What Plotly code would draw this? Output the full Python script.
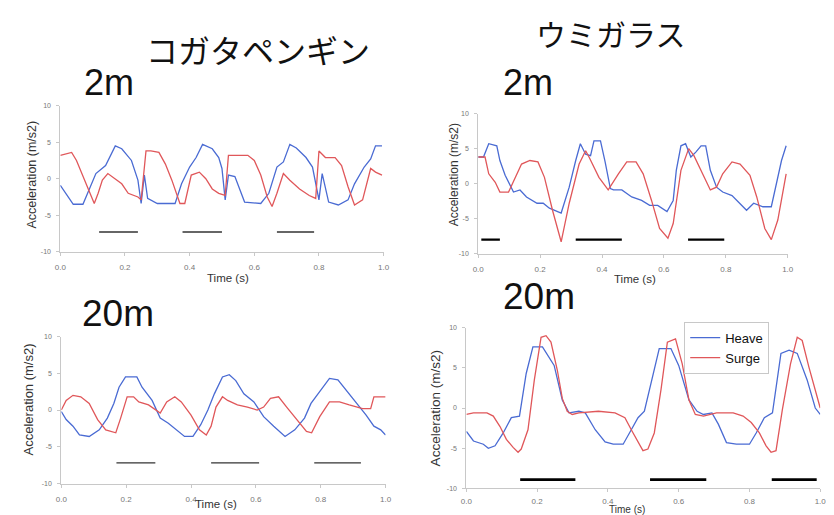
import plotly.graph_objects as go

# ---------------- data ----------------
# Panel 1: コガタペンギン 2m
p1_heave_t = [0.0, 0.04, 0.07, 0.11, 0.14, 0.17, 0.19, 0.22, 0.24, 0.25, 0.26, 0.27, 0.30, 0.355, 0.375, 0.40, 0.42, 0.44, 0.47, 0.49, 0.50, 0.51, 0.52, 0.54, 0.57, 0.62, 0.645, 0.67, 0.69, 0.71, 0.73, 0.76, 0.78, 0.80, 0.81, 0.83, 0.86, 0.89, 0.91, 0.94, 0.96, 0.975, 0.995]
p1_heave_v = [-0.9, -3.5, -3.5, 0.7, 1.8, 4.5, 4.1, 2.5, -0.2, -3.4, 0.5, -2.7, -3.4, -3.4, -0.7, 1.6, 2.9, 4.7, 4.1, 2.9, 1.4, -2.9, 0.5, 0.3, -3.2, -3.4, -2.0, 1.6, 2.3, 4.7, 4.2, 2.9, 1.6, -2.9, 0.7, -3.2, -3.6, -2.9, -0.7, 1.6, 2.7, 4.5, 4.5]
p1_surge_t = [0.0, 0.035, 0.05, 0.08, 0.105, 0.117, 0.13, 0.147, 0.17, 0.19, 0.21, 0.24, 0.25, 0.265, 0.28, 0.305, 0.325, 0.345, 0.37, 0.385, 0.405, 0.43, 0.45, 0.47, 0.49, 0.51, 0.52, 0.55, 0.58, 0.60, 0.62, 0.64, 0.655, 0.67, 0.69, 0.71, 0.74, 0.77, 0.79, 0.80, 0.82, 0.85, 0.87, 0.89, 0.91, 0.935, 0.96, 0.975, 0.995]
p1_surge_v = [3.2, 3.6, 2.5, -0.7, -3.4, -2.0, -0.2, 0.7, 0.0, -0.7, -2.0, -2.5, -2.9, 3.8, 3.8, 3.6, 2.0, -0.2, -3.4, -3.4, 0.5, 0.9, 0.0, -1.4, -2.0, -2.3, 3.2, 3.2, 3.2, 2.5, 0.5, -2.5, -3.8, -2.0, 0.7, -0.2, -1.4, -2.3, -2.7, 3.8, 2.9, 2.9, 1.8, -1.1, -3.6, -2.9, 1.4, 0.9, 0.5]
p1_bar_start = [0.12, 0.378, 0.67]
p1_bar_end = [0.24, 0.50, 0.785]
p1_bar_level = -7.3

# Panel 2: ウミガラス 2m
p2_heave_t = [0.0, 0.017, 0.034, 0.06, 0.07, 0.087, 0.114, 0.135, 0.156, 0.19, 0.21, 0.23, 0.268, 0.294, 0.315, 0.33, 0.347, 0.363, 0.374, 0.395, 0.41, 0.427, 0.437, 0.464, 0.496, 0.528, 0.554, 0.58, 0.61, 0.63, 0.64, 0.655, 0.67, 0.687, 0.703, 0.72, 0.735, 0.75, 0.77, 0.79, 0.82, 0.835, 0.867, 0.89, 0.92, 0.947, 0.963, 0.98, 0.995]
p2_heave_v = [3.8, 3.8, 5.7, 5.4, 3.3, 1.2, -1.2, -0.9, -1.9, -2.8, -2.8, -3.5, -4.2, -0.5, 3.3, 5.7, 4.2, 4.0, 6.1, 6.1, 3.1, -0.7, -0.9, -0.9, -1.9, -2.4, -3.1, -3.1, -4.0, -2.4, 1.9, 5.4, 5.7, 3.8, 4.5, 5.4, 5.4, 1.9, -0.5, -1.2, -1.7, -2.4, -3.8, -2.8, -3.3, -3.3, 0.0, 3.3, 5.4]
p2_surge_t = [0.0, 0.022, 0.034, 0.055, 0.07, 0.098, 0.14, 0.167, 0.193, 0.214, 0.24, 0.268, 0.294, 0.326, 0.347, 0.358, 0.39, 0.42, 0.453, 0.48, 0.51, 0.533, 0.56, 0.586, 0.613, 0.63, 0.655, 0.68, 0.697, 0.73, 0.75, 0.77, 0.79, 0.82, 0.846, 0.878, 0.90, 0.926, 0.947, 0.968, 0.995]
p2_surge_v = [3.8, 3.8, 1.4, 0.2, -1.2, -1.2, 2.8, 3.3, 3.1, 0.9, -3.8, -8.3, -2.8, 2.8, 4.7, 3.8, 0.9, -0.9, 1.4, 3.1, 3.1, 1.4, -2.4, -6.4, -7.8, -5.7, 1.9, 5.0, 4.0, 0.9, -0.9, -0.5, 1.4, 3.1, 2.8, 1.2, -1.9, -6.4, -8.0, -5.2, 1.4]
p2_bar_start = [0.01, 0.315, 0.678]
p2_bar_end = [0.07, 0.464, 0.795]
p2_bar_level = -8.0

# Panel 3: コガタペンギン 20m
p3_heave_t = [0.0, 0.015, 0.036, 0.056, 0.086, 0.117, 0.142, 0.162, 0.178, 0.198, 0.233, 0.249, 0.28, 0.305, 0.33, 0.36, 0.38, 0.406, 0.43, 0.452, 0.472, 0.497, 0.518, 0.538, 0.563, 0.594, 0.624, 0.655, 0.69, 0.72, 0.75, 0.77, 0.80, 0.827, 0.853, 0.878, 0.909, 0.94, 0.964, 0.985, 1.0]
p3_heave_v = [-0.2, -1.3, -2.2, -3.4, -3.6, -2.7, -1.1, 0.9, 3.1, 4.5, 4.5, 3.1, 1.3, -1.1, -1.8, -2.9, -3.6, -3.6, -2.0, 0.0, 2.2, 4.5, 4.8, 4.0, 2.2, 1.1, -0.9, -2.2, -3.6, -2.7, -1.1, 0.9, 2.7, 4.3, 4.1, 2.7, 1.1, -0.7, -2.2, -2.7, -3.4]
p3_surge_t = [0.0, 0.015, 0.036, 0.06, 0.086, 0.112, 0.137, 0.168, 0.183, 0.203, 0.223, 0.239, 0.269, 0.305, 0.325, 0.35, 0.37, 0.40, 0.426, 0.447, 0.462, 0.477, 0.497, 0.513, 0.543, 0.574, 0.604, 0.624, 0.645, 0.67, 0.695, 0.726, 0.756, 0.772, 0.797, 0.827, 0.858, 0.888, 0.929, 0.954, 0.964, 1.0]
p3_surge_v = [0.0, 1.3, 2.0, 1.8, 0.9, -1.3, -2.7, -3.1, -1.1, 1.8, 1.8, 1.1, 0.7, -0.4, 1.1, 1.8, 1.1, -0.7, -2.7, -3.4, -2.2, 0.4, 1.8, 1.3, 0.7, 0.4, 0.0, 0.4, 1.6, 1.8, 0.4, -1.3, -2.9, -3.1, -0.9, 1.1, 1.1, 0.7, 0.2, 0.2, 1.8, 1.8]
p3_bar_start = [0.17, 0.462, 0.78]
p3_bar_end = [0.29, 0.61, 0.924]
p3_bar_level = -7.2

# Panel 4: ウミガラス 20m
p4_heave_t = [0.0, 0.02, 0.048, 0.062, 0.081, 0.104, 0.127, 0.15, 0.169, 0.188, 0.215, 0.248, 0.271, 0.29, 0.318, 0.336, 0.364, 0.392, 0.415, 0.443, 0.466, 0.485, 0.503, 0.522, 0.545, 0.578, 0.60, 0.629, 0.652, 0.67, 0.694, 0.712, 0.735, 0.763, 0.80, 0.819, 0.842, 0.865, 0.879, 0.889, 0.912, 0.935, 0.963, 0.986, 1.0]
p4_heave_v = [-2.9, -4.1, -4.5, -5.0, -4.7, -3.1, -1.2, -1.0, 4.3, 7.6, 7.6, 5.3, 1.0, -0.6, -0.4, -0.6, -2.7, -4.2, -4.5, -4.5, -2.7, -1.2, -0.4, 3.1, 7.4, 7.4, 5.3, 1.0, -0.4, -0.8, -0.6, -2.0, -4.3, -4.5, -4.5, -3.1, -1.2, -0.6, 3.9, 6.8, 7.2, 6.8, 3.5, 0.0, -0.8]
p4_surge_t = [0.0, 0.02, 0.058, 0.076, 0.095, 0.113, 0.132, 0.146, 0.155, 0.174, 0.192, 0.211, 0.225, 0.239, 0.257, 0.271, 0.285, 0.299, 0.318, 0.373, 0.42, 0.448, 0.466, 0.485, 0.499, 0.513, 0.531, 0.55, 0.568, 0.591, 0.61, 0.629, 0.647, 0.67, 0.707, 0.754, 0.782, 0.805, 0.828, 0.847, 0.861, 0.875, 0.893, 0.916, 0.935, 0.949, 0.968, 1.0]
p4_surge_v = [-0.8, -0.6, -0.6, -1.0, -2.3, -3.9, -4.9, -5.5, -5.1, -2.7, 3.5, 8.8, 9.0, 8.2, 4.7, 1.2, -0.4, -0.8, -0.6, -0.4, -0.6, -1.2, -2.7, -4.3, -5.3, -5.1, -3.1, 2.3, 8.2, 8.6, 5.5, 1.0, -0.8, -1.0, -0.6, -0.6, -1.0, -1.8, -3.1, -4.7, -5.5, -5.3, -0.2, 5.5, 8.8, 8.4, 5.1, 0.0]
p4_bar_start = [0.152, 0.519, 0.863]
p4_bar_end = [0.308, 0.678, 0.99]
p4_bar_level = -8.9

x_ticks = [0.0, 0.2, 0.4, 0.6, 0.8, 1.0]
x_tick_labels = ["0.0", "0.2", "0.4", "0.6", "0.8", "1.0"]
y_ticks = [-10, -5, 0, 5, 10]
y_tick_labels = ["-10", "-5", "0", "5", "10"]

species = ["コガタペンギン", "ウミガラス"]
depths = ["2m", "2m", "20m", "20m"]
series_names = ["Heave", "Surge"]

# ---------------- figure ----------------
W, H = 834, 515
BLUE = "#4a6bd3"
RED = "#e0575a"

def px_x(x):
    return x / W

def px_y(y):
    return 1 - y / H

# pixel boxes of each panel: (left, right, top, bottom)
boxes = [(47, 375, 95, 243), (471, 785, 103, 245), (48, 377, 329, 478), (459, 818, 320, 483)]

panels = [
    (p1_heave_t, p1_heave_v, p1_surge_t, p1_surge_v, p1_bar_start, p1_bar_end, p1_bar_level, 1.3, "#333333"),
    (p2_heave_t, p2_heave_v, p2_surge_t, p2_surge_v, p2_bar_start, p2_bar_end, p2_bar_level, 2.2, "#000000"),
    (p3_heave_t, p3_heave_v, p3_surge_t, p3_surge_v, p3_bar_start, p3_bar_end, p3_bar_level, 1.3, "#333333"),
    (p4_heave_t, p4_heave_v, p4_surge_t, p4_surge_v, p4_bar_start, p4_bar_end, p4_bar_level, 2.6, "#000000"),
]

fig = go.Figure()
layout = dict(
    width=W, height=H,
    margin=dict(l=0, r=0, t=0, b=0),
    paper_bgcolor="white", plot_bgcolor="white",
    font=dict(family="Liberation Sans, Arial, sans-serif", color="#222"),
    showlegend=True,
    legend=dict(x=px_x(680), y=px_y(314), xanchor="left", yanchor="top",
                bordercolor="#c8c8c8", borderwidth=1, bgcolor="white",
                font=dict(size=13, color="#111"), tracegroupgap=0, itemwidth=30),
)

for i, (ht, hv, st, sv, bs, be, bl, bw, bc) in enumerate(panels):
    n = "" if i == 0 else str(i + 1)
    xa, ya = "x" + n, "y" + n
    l, r, t, b = boxes[i]
    layout["xaxis" + n] = dict(
        domain=[px_x(l), px_x(r)], range=[0, 1], anchor=ya,
        showline=True, linecolor="#c8c8c8", linewidth=1, mirror=False,
        ticks="outside", ticklen=3, tickcolor="#c8c8c8",
        tickvals=x_ticks, ticktext=x_tick_labels, showgrid=False, zeroline=False,
        tickfont=dict(size=8, color="#777"), ticklabelstandoff=5 if i < 3 else 2,
    )
    layout["yaxis" + n] = dict(
        domain=[px_y(b), px_y(t)], range=[-10, 10], anchor=xa,
        showline=True, linecolor="#c8c8c8", linewidth=1, mirror=False,
        ticks="outside", ticklen=3, tickcolor="#c8c8c8",
        tickvals=y_ticks, ticktext=y_tick_labels, showgrid=False, zeroline=False,
        tickfont=dict(size=7, color="#777"), ticklabelstandoff=4,
    )
    last = (i == 3)
    fig.add_trace(go.Scatter(x=ht, y=hv, mode="lines", name=series_names[0],
                             line=dict(color=BLUE, width=1.3), xaxis=xa, yaxis=ya,
                             showlegend=last))
    fig.add_trace(go.Scatter(x=st, y=sv, mode="lines", name=series_names[1],
                             line=dict(color=RED, width=1.3), xaxis=xa, yaxis=ya,
                             showlegend=last))
    bx, by = [], []
    for s, e in zip(bs, be):
        bx += [s, e, None]
        by += [bl, bl, None]
    fig.add_trace(go.Scatter(x=bx, y=by, mode="lines", line=dict(color=bc, width=bw),
                             xaxis=xa, yaxis=ya, showlegend=False, hoverinfo="skip"))

fig.update_layout(**layout)

ann = []
JP = "Noto Sans CJK JP, sans-serif"
ann.append(dict(text=species[0], x=px_x(248), y=px_y(38), font=dict(family=JP, size=32, color="#111")))
ann.append(dict(text=species[1], x=px_x(605), y=px_y(21), font=dict(family=JP, size=30, color="#111")))
depth_pos = [(96, 71), (522, 71), (106, 306), (533, 288)]
depth_size = [36, 36, 37, 37]
for d, (x, y), s in zip(depths, depth_pos, depth_size):
    ann.append(dict(text=d, x=px_x(x), y=px_y(y), font=dict(size=s, color="#111")))

time_pos = [(217, 270, 11.5), (630, 271, 11.5), (205, 499, 11.5), (622, 504, 10)]
for (x, y, s) in time_pos:
    ann.append(dict(text="Time (s)", x=px_x(x), y=px_y(y), font=dict(size=s, color="#333")))
acc_pos = [(18, 165, 12.5), (446, 165, 12), (15, 393, 13), (428, 402, 13.5)]
for (x, y, s) in acc_pos:
    ann.append(dict(text="Acceleration (m/s2)", x=px_x(x), y=px_y(y), textangle=-90,
                    font=dict(size=s, color="#333")))

for a in ann:
    a.update(xref="paper", yref="paper", showarrow=False, xanchor="center", yanchor="middle")
fig.update_layout(annotations=ann)

fig.write_html("out.html")
